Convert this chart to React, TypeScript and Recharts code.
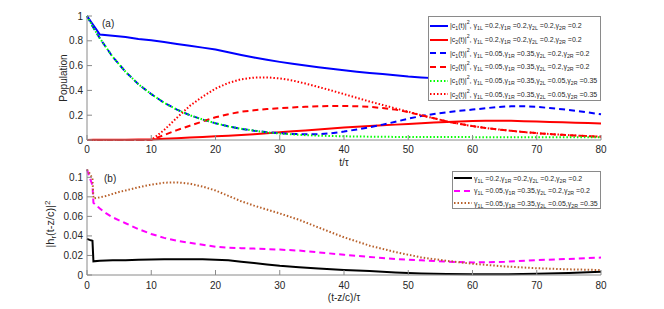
import React from 'react';
import { LineChart, Line, XAxis, YAxis } from 'recharts';

// ---------- Panel (a) data ----------
const tTop = [0, 1, 2, 4, 6, 8, 10, 12, 14, 16, 18, 20, 22, 24, 26, 28, 30, 32, 34, 36, 38, 40, 42, 44, 46, 48, 50, 52, 54, 56, 58, 60, 62, 64, 66, 68, 70, 72, 74, 76, 78, 80];
const c1Sym = [1, 0.925, 0.85, 0.84, 0.83, 0.815, 0.805, 0.79, 0.775, 0.76, 0.745, 0.73, 0.707, 0.685, 0.665, 0.647, 0.63, 0.615, 0.6, 0.587, 0.574, 0.562, 0.551, 0.541, 0.532, 0.522, 0.512, 0.505, 0.499, 0.495, 0.493, 0.493, 0.495, 0.499, 0.505, 0.511, 0.518, 0.526, 0.534, 0.542, 0.551, 0.56];
const c2Sym = [0, 0.002, 0.003, 0.003, 0.003, 0.004, 0.005, 0.01, 0.015, 0.02, 0.025, 0.03, 0.035, 0.04, 0.047, 0.055, 0.062, 0.07, 0.077, 0.085, 0.092, 0.1, 0.106, 0.112, 0.118, 0.124, 0.13, 0.136, 0.141, 0.146, 0.15, 0.153, 0.155, 0.156, 0.155, 0.152, 0.149, 0.146, 0.143, 0.14, 0.137, 0.134];
const c1AsymA = [1, 0.905, 0.82, 0.67, 0.55, 0.45, 0.37, 0.3, 0.245, 0.2, 0.165, 0.135, 0.11, 0.09, 0.075, 0.063, 0.055, 0.049, 0.046, 0.047, 0.055, 0.068, 0.085, 0.103, 0.124, 0.147, 0.172, 0.193, 0.21, 0.224, 0.235, 0.245, 0.256, 0.266, 0.272, 0.272, 0.267, 0.258, 0.248, 0.236, 0.222, 0.207];
const c2AsymA = [0, 0, 0, 0, 0, 0, 0, 0.04, 0.08, 0.115, 0.15, 0.183, 0.208, 0.228, 0.24, 0.25, 0.257, 0.263, 0.268, 0.272, 0.274, 0.274, 0.272, 0.267, 0.258, 0.245, 0.225, 0.2, 0.175, 0.15, 0.13, 0.112, 0.097, 0.085, 0.074, 0.064, 0.055, 0.048, 0.042, 0.036, 0.031, 0.027];
const c1AsymB = [1, 0.905, 0.82, 0.67, 0.55, 0.45, 0.37, 0.3, 0.245, 0.2, 0.165, 0.135, 0.11, 0.09, 0.075, 0.062, 0.052, 0.045, 0.039, 0.035, 0.032, 0.03, 0.028, 0.027, 0.026, 0.025, 0.025, 0.024, 0.024, 0.024, 0.024, 0.023, 0.023, 0.023, 0.023, 0.023, 0.023, 0.023, 0.023, 0.023, 0.023, 0.023];
const c2AsymB = [0, 0, 0, 0, 0, 0, 0, 0.08, 0.18, 0.275, 0.35, 0.415, 0.46, 0.49, 0.503, 0.505, 0.497, 0.48, 0.455, 0.428, 0.4, 0.37, 0.34, 0.31, 0.283, 0.255, 0.228, 0.2, 0.175, 0.15, 0.13, 0.112, 0.097, 0.085, 0.074, 0.064, 0.055, 0.048, 0.042, 0.036, 0.031, 0.027];

// ---------- Panel (b) data ----------
const tBot = [0, 0.4, 0.85, 1.0, 2, 3, 4, 5, 6, 8, 10, 12, 14, 16, 18, 20, 22, 24, 26, 28, 30, 33, 36, 40, 44, 48, 52, 56, 60, 65, 70, 75, 80];
const hSym = [0.037, 0.036, 0.035, 0.014, 0.0145, 0.0148, 0.015, 0.015, 0.0152, 0.0155, 0.0158, 0.016, 0.016, 0.016, 0.016, 0.0155, 0.015, 0.0135, 0.0122, 0.0108, 0.0095, 0.008, 0.0067, 0.0052, 0.004, 0.0025, 0.0015, 0.001, 0.0008, 0.0008, 0.0012, 0.002, 0.0034];
const hAsymA = [0.108, 0.1, 0.092, 0.074, 0.068, 0.063, 0.059, 0.056, 0.053, 0.047, 0.042, 0.038, 0.035, 0.033, 0.031, 0.029, 0.028, 0.0275, 0.027, 0.0265, 0.026, 0.025, 0.0232, 0.0207, 0.0185, 0.0163, 0.015, 0.0137, 0.0128, 0.0135, 0.0152, 0.0165, 0.0178];
const hAsymB = [0.108, 0.104, 0.099, 0.0785, 0.0795, 0.081, 0.083, 0.085, 0.0865, 0.0898, 0.0925, 0.0945, 0.0948, 0.0935, 0.0905, 0.0865, 0.081, 0.0755, 0.071, 0.067, 0.063, 0.0565, 0.0487, 0.0386, 0.03, 0.0235, 0.018, 0.0145, 0.0115, 0.0088, 0.0069, 0.0058, 0.0051];

// ---------- ticks ----------
const xTicks = [0, 10, 20, 30, 40, 50, 60, 70, 80];
const yTicksTop = [0, 0.2, 0.4, 0.6, 0.8, 1];
const yTicksBot = [0, 0.02, 0.04, 0.06, 0.08, 0.1];

// ---------- legend params ----------
const legendTopParams = [
  { c: '1', g: ['0.2', '0.2', '0.2', '0.2'] },
  { c: '2', g: ['0.2', '0.2', '0.2', '0.2'] },
  { c: '1', g: ['0.05', '0.35', '0.2', '0.2'] },
  { c: '2', g: ['0.05', '0.35', '0.2', '0.2'] },
  { c: '1', g: ['0.05', '0.35', '0.05', '0.35'] },
  { c: '2', g: ['0.05', '0.35', '0.05', '0.35'] },
];
const legendBotParams = [
  ['0.2', '0.2', '0.2', '0.2'],
  ['0.05', '0.35', '0.2', '0.2'],
  ['0.05', '0.35', '0.05', '0.35'],
];

const topData = tTop.map((t, i) => ({ t, a: c1Sym[i], b: c2Sym[i], c: c1AsymA[i], d: c2AsymA[i], e: c1AsymB[i], f: c2AsymB[i] }));
const botData = tBot.map((t, i) => ({ t, a: hSym[i], b: hAsymA[i], c: hAsymB[i] }));

const FONT = '"Liberation Sans", Arial, Helvetica, sans-serif';
const TXT = '#262626';
const FRAME = '#8a8a8a';
const TL = 5;

const topStyles = [
  { k: 'a', color: '#0000ff', dash: undefined, w: 2 },
  { k: 'b', color: '#ff0000', dash: undefined, w: 2 },
  { k: 'c', color: '#0000ff', dash: '6 4', w: 2 },
  { k: 'd', color: '#ff0000', dash: '6 4', w: 2 },
  { k: 'e', color: '#00ff00', dash: '1.5 2', w: 2 },
  { k: 'f', color: '#ff0000', dash: '1.5 2', w: 2 },
];
const botStyles = [
  { k: 'a', color: '#000000', dash: undefined, w: 2 },
  { k: 'b', color: '#ff00ff', dash: '6 4', w: 2 },
  { k: 'c', color: '#b8602a', dash: '1.5 2', w: 2 },
];

const fmt = (v: number) => String(v);

const bottomTick = (m: number) => (p: any) => (
  <g>
    <line x1={p.x} x2={p.x} y1={p.y - m} y2={p.y - m - TL} stroke={FRAME} />
    <text x={p.x} y={p.y} dy="0.71em" textAnchor="middle" fontSize={10} fill={TXT} fontFamily={FONT}>{fmt(p.payload.value)}</text>
  </g>
);
const topTick = (p: any) => (
  <line x1={p.x} x2={p.x} y1={p.y} y2={p.y + TL} stroke={FRAME} />
);
const leftTick = (m: number) => (p: any) => (
  <g>
    <line x1={p.x + m} x2={p.x + m + TL} y1={p.y} y2={p.y} stroke={FRAME} />
    <text x={p.x} y={p.y} dy="0.35em" textAnchor="end" fontSize={10} fill={TXT} fontFamily={FONT}>{fmt(p.payload.value)}</text>
  </g>
);
const rightTick = (p: any) => (
  <line x1={p.x} x2={p.x - TL} y1={p.y} y2={p.y} stroke={FRAME} />
);

const sub = { fontSize: '75%', verticalAlign: '-2px', lineHeight: 0 } as React.CSSProperties;
const sup = { fontSize: '75%', verticalAlign: '4px', lineHeight: 0 } as React.CSSProperties;

const GammaText = ({ g }: { g: string[] }) => (
  <span>
    γ<span style={sub}>1L</span> =<span>{g[0]}</span>,γ<span style={sub}>1R</span> ={g[1]},γ<span style={sub}>2L</span> ={g[2]},γ<span style={sub}>2R</span> ={g[3]}
  </span>
);

const Sample = ({ color, dash }: { color: string; dash?: string }) => (
  <svg width={18} height={6} style={{ display: 'block', flex: 'none' }}>
    <line x1={0} x2={18} y1={3} y2={3} stroke={color} strokeWidth={2} strokeDasharray={dash} />
  </svg>
);

const LFS = 7;

export default function App() {
  return (
    <div style={{ position: 'absolute', left: 0, top: 0, width: 664, height: 309, background: '#fff', fontFamily: FONT, overflow: 'hidden' }}>
      <div style={{ position: 'absolute', left: 0, top: 0 }}>
        <LineChart width={664} height={168} data={topData} margin={{ top: 16, right: 63, left: 47, bottom: 0 }}>
          <XAxis dataKey="t" type="number" domain={[0, 80]} ticks={xTicks} interval={0} height={28} tickSize={0} tickMargin={6} tickLine={false}
            axisLine={{ stroke: FRAME }} tick={bottomTick(6)}
            label={{ content: (props: any) => { const vb = props.viewBox; return <text x={vb.x + vb.width / 2} y={vb.y + 22} dy="0.35em" textAnchor="middle" fontSize={10} fill={TXT} fontFamily={FONT}>t/τ</text>; } }} />
          <XAxis xAxisId="top" orientation="top" type="number" domain={[0, 80]} ticks={xTicks} interval={0} height={0} tickSize={0} tickMargin={0} tickLine={false}
            axisLine={{ stroke: FRAME }} tick={topTick} />
          <YAxis type="number" domain={[0, 1]} ticks={yTicksTop} interval={0} width={40} tickSize={0} tickMargin={4} tickLine={false}
            axisLine={{ stroke: FRAME }} tick={leftTick(4)}
            label={{ content: (props: any) => { const vb = props.viewBox; const cx = vb.x + 16; const cy = vb.y + vb.height / 2; return <text x={cx} y={cy} dy="0.35em" textAnchor="middle" fontSize={10} fill={TXT} fontFamily={FONT} transform={`rotate(-90 ${cx} ${cy})`}>Population</text>; } }} />
          <YAxis yAxisId="right" orientation="right" type="number" domain={[0, 1]} ticks={yTicksTop} interval={0} width={0} tickSize={0} tickMargin={0} tickLine={false}
            axisLine={{ stroke: FRAME }} tick={rightTick} />
          {topStyles.map((s) => (
            <Line key={s.k} dataKey={s.k} type="linear" stroke={s.color} strokeWidth={s.w} strokeDasharray={s.dash} dot={false} isAnimationActive={false} />
          ))}
        </LineChart>
      </div>
      <div style={{ position: 'absolute', left: 0, top: 166 }}>
        <LineChart width={664} height={143} data={botData} margin={{ top: 3, right: 63, left: 47, bottom: 0 }}>
          <XAxis dataKey="t" type="number" domain={[0, 80]} ticks={xTicks} interval={0} height={34} tickSize={0} tickMargin={7} tickLine={false}
            axisLine={{ stroke: FRAME }} tick={bottomTick(7)}
            label={{ content: (props: any) => { const vb = props.viewBox; return <text x={vb.x + vb.width / 2} y={vb.y + 22} dy="0.35em" textAnchor="middle" fontSize={10} fill={TXT} fontFamily={FONT}>(t-z/c)/τ</text>; } }} />
          <XAxis xAxisId="top" orientation="top" type="number" domain={[0, 80]} ticks={xTicks} interval={0} height={0} tickSize={0} tickMargin={0} tickLine={false}
            axisLine={{ stroke: FRAME }} tick={topTick} />
          <YAxis type="number" domain={[0, 0.1085]} ticks={yTicksBot} interval={0} width={40} tickSize={0} tickMargin={4} tickLine={false}
            axisLine={{ stroke: FRAME }} tick={leftTick(4)}
            label={{ content: (props: any) => { const vb = props.viewBox; const cx = vb.x + 3; const cy = vb.y + vb.height / 2 + 2; return (
              <text x={cx} y={cy} dy="0.35em" textAnchor="middle" fontSize={11} fill={TXT} fontFamily={FONT} transform={`rotate(-90 ${cx} ${cy})`}>
                <tspan>|h</tspan><tspan dy={2} fontSize={8}>r</tspan><tspan dy={-2}>(t-z/c)|</tspan><tspan dy={-4} fontSize={8}>2</tspan>
              </text>); } }} />
          <YAxis yAxisId="right" orientation="right" type="number" domain={[0, 0.1085]} ticks={yTicksBot} interval={0} width={0} tickSize={0} tickMargin={0} tickLine={false}
            axisLine={{ stroke: FRAME }} tick={rightTick} />
          {botStyles.map((s) => (
            <Line key={s.k} dataKey={s.k} type="linear" stroke={s.color} strokeWidth={s.w} strokeDasharray={s.dash} dot={false} isAnimationActive={false} />
          ))}
        </LineChart>
      </div>

      <div style={{ position: 'absolute', left: 102, top: 18, fontSize: 10, color: TXT }}>(a)</div>
      <div style={{ position: 'absolute', left: 104, top: 173, fontSize: 10, color: TXT }}>(b)</div>

      <div style={{ position: 'absolute', left: 428, top: 16, width: 173, height: 85, background: '#fff', border: `1px solid ${FRAME}`, boxSizing: 'border-box', padding: '2px 0 0 1px' }}>
        {legendTopParams.map((p, i) => (
          <div key={i} style={{ display: 'flex', alignItems: 'center', height: 13.7, fontSize: LFS, color: TXT, whiteSpace: 'nowrap' }}>
            <Sample color={topStyles[i].color} dash={topStyles[i].dash} />
            <span style={{ marginLeft: 2 }}>|c<span style={sub}>{p.c}</span>(t)|<span style={sup}>2</span>, <GammaText g={p.g} /></span>
          </div>
        ))}
      </div>
      <div style={{ position: 'absolute', left: 452, top: 171, width: 149, height: 38, background: '#fff', border: `1px solid ${FRAME}`, boxSizing: 'border-box', padding: '0 0 0 1px' }}>
        {legendBotParams.map((g, i) => (
          <div key={i} style={{ display: 'flex', alignItems: 'center', height: 12.6, fontSize: LFS, color: TXT, whiteSpace: 'nowrap' }}>
            <Sample color={botStyles[i].color} dash={botStyles[i].dash} />
            <span style={{ marginLeft: 2 }}><GammaText g={g} /></span>
          </div>
        ))}
      </div>
    </div>
  );
}
